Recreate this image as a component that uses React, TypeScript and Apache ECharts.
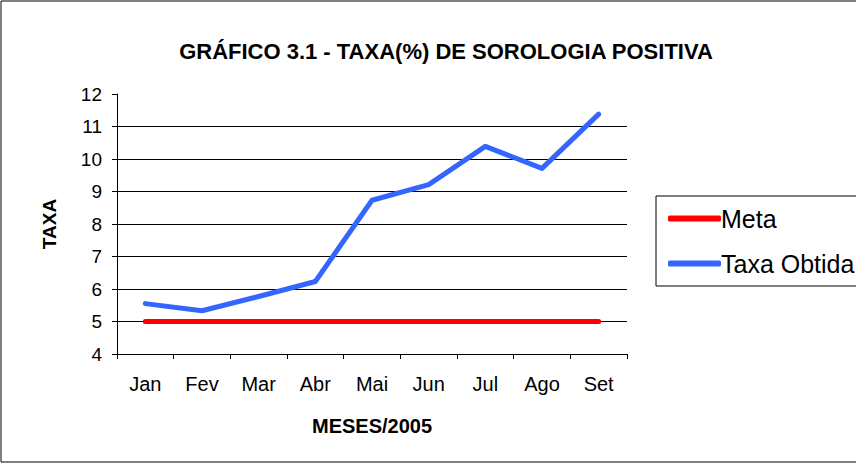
import React, { useEffect, useRef } from "react";
import * as echarts from "echarts";

const months = ["Jan", "Fev", "Mar", "Abr", "Mai", "Jun", "Jul", "Ago", "Set"];
const meta = [5, 5, 5, 5, 5, 5, 5, 5, 5];
const taxaObtida = [5.55, 5.33, 5.77, 6.23, 8.73, 9.21, 10.39, 9.71, 11.38];

const FONT = "'Liberation Sans', Arial, sans-serif";

export default function App() {
  const ref = useRef<HTMLDivElement>(null);
  useEffect(() => {
    const chart = echarts.init(ref.current!, null, { renderer: "svg" });
    chart.setOption({
      animation: false,
      backgroundColor: "#fff",
      textStyle: { fontFamily: FONT },
      title: {
        text: "GRÁFICO 3.1 - TAXA(%) DE SOROLOGIA POSITIVA",
        left: 441,
        top: 35,
        textAlign: "center",
        textStyle: { fontSize: 22, fontWeight: "bold", color: "#000", fontFamily: FONT, letterSpacing: -0.2 },
      },
      graphic: [
        {
          type: "rect",
          shape: { x: 1, y: 1, width: 860, height: 461 },
          style: { fill: "none", stroke: "#000", lineWidth: 1 },
          silent: true,
        },
        {
          type: "rect",
          shape: { x: 656, y: 196, width: 220, height: 90 },
          style: { fill: "none", stroke: "#000", lineWidth: 1 },
          silent: true,
        },
      ],
      legend: {
        orient: "vertical",
        left: 663,
        top: 201,
        itemWidth: 53,
        itemHeight: 6,
        itemGap: 20,
        icon: "roundRect",
        textStyle: { fontSize: 25, lineHeight: 25, color: "#000", fontFamily: FONT, padding: [0, 0, 0, -5] },
        data: ["Meta", "Taxa Obtida"],
      },
      grid: { left: 117, right: 229, top: 94, bottom: 110, containLabel: false },
      xAxis: {
        type: "category",
        data: months,
        boundaryGap: true,
        name: "MESES/2005",
        nameLocation: "middle",
        nameGap: 62,
        nameTextStyle: { fontSize: 20, fontWeight: "bold", color: "#000", fontFamily: FONT },
        axisLine: { lineStyle: { color: "#000", width: 1 } },
        axisTick: { show: true, length: 5, lineStyle: { color: "#000" } },
        axisLabel: { fontSize: 20, color: "#000", margin: 20, fontFamily: FONT },
      },
      yAxis: {
        type: "value",
        min: 4,
        max: 12,
        interval: 1,
        name: "TAXA",
        nameLocation: "middle",
        nameGap: 58,
        nameRotate: 90,
        nameTextStyle: { fontSize: 19, fontWeight: "bold", color: "#000", fontFamily: FONT },
        axisLine: { show: true, lineStyle: { color: "#000", width: 1 } },
        axisTick: { show: true, length: 5, lineStyle: { color: "#000" } },
        axisLabel: { fontSize: 19, color: "#000", margin: 15, fontFamily: FONT },
        splitLine: {
          show: true,
          lineStyle: { color: "#000", width: 1 },
          showMinLine: false,
          showMaxLine: false,
        },
      },
      series: [
        {
          name: "Meta",
          type: "line",
          data: meta,
          symbol: "none",
          lineStyle: { color: "#ff0000", width: 5, cap: "round" },
          itemStyle: { color: "#ff0000" },
        },
        {
          name: "Taxa Obtida",
          type: "line",
          data: taxaObtida,
          symbol: "none",
          lineStyle: { color: "#3366ff", width: 5, cap: "round", join: "round" },
          itemStyle: { color: "#3366ff" },
        },
      ],
    });
    return () => chart.dispose();
  }, []);
  return (
    <div
      ref={ref}
      style={{ position: "absolute", left: 0, top: 0, width: 856, height: 464 }}
    />
  );
}
